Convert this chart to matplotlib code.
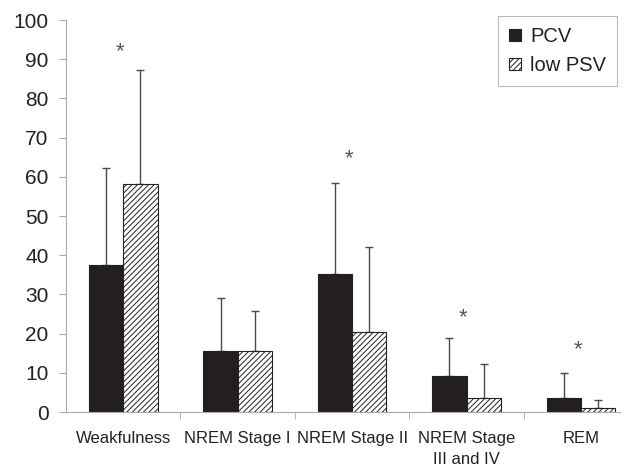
import numpy as np
import matplotlib.pyplot as plt
from matplotlib.ticker import FixedLocator

plt.rcParams['font.family'] = ['Liberation Sans', 'DejaVu Sans']
plt.rcParams['hatch.color'] = '#555555'
plt.rcParams['hatch.linewidth'] = 0.7

categories = ['Weakfulness', 'NREM Stage I', 'NREM Stage II', 'NREM Stage\nIII and IV', 'REM']
pcv = [37.5, 15.5, 35.3, 9.2, 3.6]
pcv_err = [24.8, 13.5, 23.2, 9.8, 6.4]
psv = [58.2, 15.5, 20.3, 3.6, 1.0]
psv_err = [29.0, 10.2, 21.9, 8.7, 2.0]
star_y = [92, None, 64.5, 24, 16]

fig = plt.figure(figsize=(6.3, 4.67), dpi=100)
ax = fig.add_axes([66 / 630, 55 / 467, 554 / 630, 392 / 467])

x = np.arange(len(categories))
w = 0.3
ax.bar(x - w / 2, pcv, w, color='#231f20', edgecolor='#231f20', linewidth=0.8, label='PCV', zorder=2)
ax.bar(x + w / 2, psv, w, color='white', edgecolor='#222222', linewidth=0.8,
       hatch='//////', label='low PSV', zorder=2)

err_kw = dict(fmt='none', ecolor='#4a4a4a', elinewidth=1.0, capsize=3, capthick=1.0, zorder=1)
ax.errorbar(x - w / 2, pcv, yerr=[np.zeros(5), pcv_err], **err_kw)
ax.errorbar(x + w / 2, psv, yerr=[np.zeros(5), psv_err], **err_kw)

for i, s in enumerate(star_y):
    if s is not None:
        ax.text(x[i] - 0.03, s, '*', ha='center', va='center', fontsize=16, color='#555555')

ax.set_xlim(-0.5, 4.34)
ax.set_ylim(0, 100)
ax.set_yticks(range(0, 101, 10))
ax.tick_params(axis='y', labelsize=15, length=5, color='#aaaaaa', pad=7.5, labelcolor='#222222')
ax.set_xticks(x)
ax.set_xticklabels(categories, fontsize=12, color='#222222', linespacing=1.45)
ax.tick_params(axis='x', length=0, pad=14)
ax.xaxis.set_minor_locator(FixedLocator([0.5, 1.5, 2.5, 3.5]))
ax.tick_params(axis='x', which='minor', length=5, color='#aaaaaa')

for sp in ['top', 'right']:
    ax.spines[sp].set_visible(False)
for sp in ['left', 'bottom']:
    ax.spines[sp].set_color('#aaaaaa')

leg = ax.legend(loc='upper right', bbox_to_anchor=(617 / 630, 1 - 16 / 467), bbox_transform=fig.transFigure,
                fontsize=14.5, frameon=True, fancybox=False, handlelength=0.6, handleheight=0.6,
                handletextpad=0.45, borderpad=0.55, labelspacing=0.5, borderaxespad=0)
leg.get_frame().set_edgecolor('#aaaaaa')
leg.get_frame().set_linewidth(0.8)
for t in leg.get_texts():
    t.set_color('#222222')

fig.savefig('out.png', dpi=100)
